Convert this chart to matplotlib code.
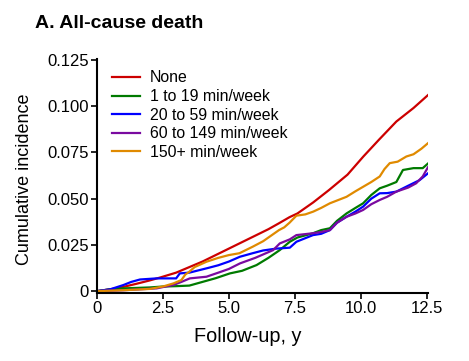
import matplotlib
matplotlib.use("Agg")
import matplotlib.pyplot as plt

plt.rcParams['font.family'] = ['Liberation Sans', 'DejaVu Sans']

labels = ["None", "1 to 19 min/week", "20 to 59 min/week", "60 to 149 min/week", "150+ min/week"]
colors = ["#cc0000", "#007a00", "#0000ff", "#7a0aa0", "#e08a00"]

none_x = [0, 0.5, 1.0, 1.5, 2.0, 2.4, 3.0, 3.5, 4.0, 4.5, 5.0, 5.5, 6.0, 6.5, 6.9, 7.3, 7.6, 8.2, 8.8, 9.5, 10.1, 10.7, 11.35, 12.0, 12.55]
none_y = [0, 0.001, 0.0023, 0.004, 0.0058, 0.0074, 0.010, 0.013, 0.016, 0.0195, 0.023, 0.0265, 0.030, 0.0335, 0.0367, 0.040, 0.042, 0.048, 0.0547, 0.063, 0.0728, 0.082, 0.0917, 0.099, 0.106]

g1_x = [0, 0.5, 1.0, 2.0, 2.5, 3.0, 3.5, 4.0, 4.5, 5.04, 5.5, 6.05, 6.5, 6.93, 7.31, 7.6, 8.19, 8.5, 8.83, 9.1, 9.46, 9.8, 10.09, 10.4, 10.72, 11.0, 11.35, 11.6, 12.0, 12.35, 12.55]
g1_y = [0, 0.001, 0.0015, 0.002, 0.0025, 0.0027, 0.003, 0.005, 0.007, 0.0096, 0.011, 0.0141, 0.018, 0.0222, 0.0267, 0.029, 0.0313, 0.033, 0.034, 0.038, 0.042, 0.045, 0.0475, 0.052, 0.0556, 0.057, 0.059, 0.0655, 0.0665, 0.0665, 0.069]

g2_x = [0, 0.5, 1.0, 1.3, 1.63, 2.26, 3.0, 3.14, 3.5, 3.78, 4.2, 4.6, 5.0, 5.42, 5.9, 6.3, 6.8, 7.31, 7.56, 8.19, 8.5, 8.83, 9.1, 9.46, 9.8, 10.09, 10.4, 10.72, 11.0, 11.35, 11.8, 12.23, 12.55]
g2_y = [0, 0.001, 0.0033, 0.005, 0.0063, 0.0069, 0.0069, 0.0096, 0.0100, 0.011, 0.0125, 0.014, 0.016, 0.0186, 0.0205, 0.022, 0.023, 0.0235, 0.0267, 0.0303, 0.031, 0.033, 0.037, 0.0402, 0.043, 0.0457, 0.050, 0.0529, 0.053, 0.0538, 0.057, 0.060, 0.0637]

g3_x = [0, 1.0, 2.26, 2.6, 2.89, 3.2, 3.52, 4.15, 4.6, 5.0, 5.42, 6.0, 6.68, 6.93, 7.31, 7.56, 8.19, 8.5, 8.83, 9.1, 9.46, 9.8, 10.09, 10.4, 10.72, 11.0, 11.35, 11.8, 12.1, 12.35, 12.55]
g3_y = [0, 0.0005, 0.0015, 0.0025, 0.0033, 0.005, 0.0069, 0.0078, 0.010, 0.012, 0.015, 0.018, 0.0222, 0.0258, 0.028, 0.0303, 0.0313, 0.032, 0.033, 0.037, 0.0402, 0.042, 0.0439, 0.047, 0.0493, 0.051, 0.0538, 0.056, 0.0583, 0.062, 0.067]

g4_x = [0, 1.0, 2.0, 2.5, 2.9, 3.2, 3.35, 3.5, 3.7, 4.15, 4.6, 5.0, 5.4, 5.9, 6.3, 6.7, 6.9, 7.1, 7.3, 7.56, 7.9, 8.2, 8.5, 8.83, 9.1, 9.46, 9.8, 10.1, 10.4, 10.72, 10.9, 11.1, 11.4, 11.73, 12.0, 12.3, 12.55]
g4_y = [0, 0.0005, 0.0012, 0.0025, 0.0042, 0.006, 0.009, 0.0105, 0.013, 0.0159, 0.018, 0.0195, 0.0205, 0.024, 0.027, 0.031, 0.033, 0.0345, 0.037, 0.0408, 0.0415, 0.043, 0.045, 0.0475, 0.049, 0.051, 0.054, 0.0565, 0.059, 0.062, 0.066, 0.0692, 0.070, 0.0728, 0.074, 0.077, 0.080]

series = [(none_x, none_y), (g1_x, g1_y), (g2_x, g2_y), (g3_x, g3_y), (g4_x, g4_y)]

xticks = [0, 2.5, 5.0, 7.5, 10.0, 12.5]
xticklabels = ["0", "2.5", "5.0", "7.5", "10.0", "12.5"]
yticks = [0, 0.025, 0.05, 0.075, 0.1, 0.125]
yticklabels = ["0", "0.025", "0.050", "0.075", "0.100", "0.125"]

W, H = 469, 361
fig = plt.figure(figsize=(W / 100, H / 100), dpi=100)
ax = fig.add_axes([97 / W, (H - 293) / H, (428 - 97) / W, (293 - 59) / H])

for (x, y), c, lab in zip(series, colors, labels):
    ax.plot(x, y, color=c, lw=1.6, label=lab)

ax.set_xlim(0, 12.55)
ax.set_ylim(-0.001, 0.1255)
ax.set_xticks(xticks)
ax.set_xticklabels(xticklabels)
ax.set_yticks(yticks)
ax.set_yticklabels(yticklabels)
ax.tick_params(direction='out', length=4, width=1.2, labelsize=12, pad=2, colors='black')
for s in ['top', 'right']:
    ax.spines[s].set_visible(False)
for s in ['left', 'bottom']:
    ax.spines[s].set_linewidth(1.5)

leg = ax.legend(loc='upper left', bbox_to_anchor=(0.045, 0.951), frameon=False, fontsize=11.4,
                handlelength=1.77, handletextpad=0.63, labelspacing=0.23, borderaxespad=0, borderpad=0)

fig.text(25 / W, 1 - 179 / H, "Cumulative incidence", rotation=90, ha='center', va='center', fontsize=13)
fig.text(248 / W, 1 - 337 / H, "Follow-up, y", ha='center', va='center', fontsize=14.3)
fig.text(35 / W, 1 - 28 / H, "A. All-cause death", ha='left', va='baseline', fontsize=14, fontweight='bold')

fig.savefig("out.png", dpi=100)
